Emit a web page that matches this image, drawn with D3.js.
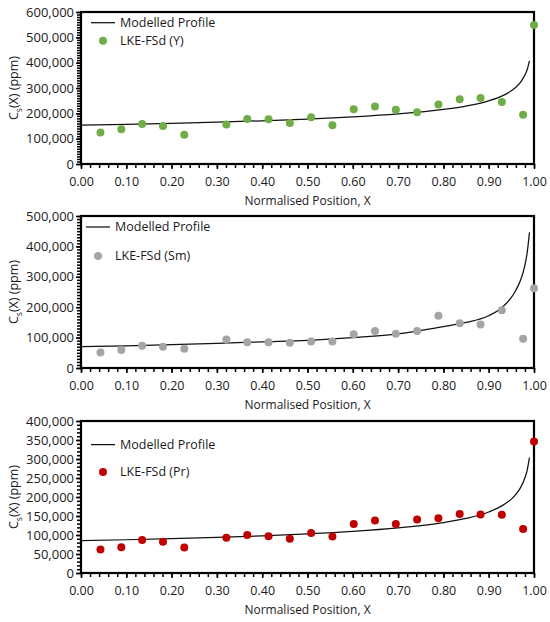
<!DOCTYPE html>
<html>
<head>
<meta charset="utf-8">
<script src="https://cdn.jsdelivr.net/npm/d3@7"></script>
<style>
  body { margin: 0; background: #fff; }
  text { font-family: "Open Sans", sans-serif; fill: #1a1a1a; }
</style>
</head>
<body>
<div id="chart"></div>
<script>
// normalised positions of the measured points
var positions = [0.043, 0.089, 0.135, 0.181, 0.228, 0.321, 0.367, 0.414, 0.461, 0.508, 0.555,
  0.602, 0.649, 0.695, 0.742, 0.789, 0.836, 0.882, 0.929, 0.976, 1.0];

// measured concentrations (ppm)
var yttrium = [124000, 137000, 158000, 150000, 115000, 156000, 178000, 177000, 162000, 185000, 153000,
  216000, 227000, 214000, 204000, 235000, 256000, 261000, 245000, 194000, 549000];
var samarium = [51000, 59000, 73000, 70000, 63000, 94000, 85000, 85000, 83000, 87000, 87000,
  111000, 122000, 113000, 122000, 172000, 147000, 143000, 190000, 96000, 262000];
var praseodymium = [62000, 68000, 87000, 82000, 67000, 93000, 100000, 97000, 90000, 105000, 96000,
  129000, 138000, 129000, 141000, 144000, 155000, 154000, 153000, 116000, 346000];

// modelled profiles
var modelX = [0, 0.1, 0.2, 0.3, 0.4, 0.5, 0.6, 0.7, 0.8, 0.85, 0.9, 0.93, 0.95, 0.96, 0.97, 0.98, 0.985, 0.99];
var modelY = [153000, 156500, 160400, 165000, 170500, 177300, 185900, 197600, 215400, 228900, 249500,
  269100, 289100, 303000, 322200, 351200, 373000, 407000];
var modelSm = [70000, 73000, 76600, 80800, 86000, 91000, 100000, 112000, 136000, 150000, 172000,
  200000, 232000, 256000, 287600, 338700, 380000, 446000];
var modelPr = [85000, 87500, 90400, 93800, 97900, 103000, 109500, 118600, 132600, 143600, 160600,
  177300, 194500, 207000, 224000, 250600, 271000, 303500];

var xTicks = [0, 0.1, 0.2, 0.3, 0.4, 0.5, 0.6, 0.7, 0.8, 0.9, 1.0];

var width = 550, height = 622;
var left = 81, right = 534;

var svg = d3.select("#chart").append("svg")
  .attr("width", width)
  .attr("height", height);

var x = d3.scaleLinear().domain([0, 1]).range([left, right]);

var panels = [
  { label: "LKE-FSd (Y)", pts: yttrium, model: modelY, color: "#70AD47",
    top: 12, bottom: 164, yMax: 600000, yStep: 100000,
    lx: 91, lineDy: 10.7, dotDy: 28.7 },
  { label: "LKE-FSd (Sm)", pts: samarium, model: modelSm, color: "#A5A5A5",
    top: 216, bottom: 368, yMax: 500000, yStep: 100000,
    lx: 86, lineDy: 11, dotDy: 40 },
  { label: "LKE-FSd (Pr)", pts: praseodymium, model: modelPr, color: "#C00000",
    top: 421, bottom: 573, yMax: 400000, yStep: 50000,
    lx: 91, lineDy: 23.6, dotDy: 51 }
];

panels.forEach(function (p) {
  var y = d3.scaleLinear().domain([0, p.yMax]).range([p.bottom, p.top]);
  var g = svg.append("g");

  // x axis, major + minor ticks
  var xMajor = g.append("g")
    .attr("transform", "translate(0," + p.bottom + ")")
    .call(d3.axisBottom(x).tickValues(xTicks).tickSize(5).tickSizeOuter(0)
      .tickFormat(d3.format(".2f")));
  xMajor.select(".domain").remove();
  xMajor.selectAll("text").attr("y", 13).attr("font-size", "12.5px");

  var xMinor = g.append("g")
    .attr("transform", "translate(0," + p.bottom + ")")
    .call(d3.axisBottom(x).tickValues(d3.range(0, 1.001, 0.02)).tickSize(4).tickFormat(""));
  xMinor.select(".domain").remove();

  // y axis
  var yMajor = g.append("g")
    .attr("transform", "translate(" + left + ",0)")
    .call(d3.axisLeft(y).tickValues(d3.range(0, p.yMax + 1, p.yStep)).tickSize(5)
      .tickFormat(d3.format(",")));
  yMajor.select(".domain").remove();
  yMajor.selectAll("text").attr("x", -7).attr("font-size", "13px");

  var yMinor = g.append("g")
    .attr("transform", "translate(" + left + ",0)")
    .call(d3.axisLeft(y).tickValues(d3.range(0, p.yMax + 1, 10000)).tickSize(4).tickFormat(""));
  yMinor.select(".domain").remove();

  g.selectAll(".tick line").attr("stroke", "#000").attr("stroke-width", 1.5);
  g.selectAll(".tick text").attr("fill", "#1a1a1a").style("font-family", "Open Sans, sans-serif");

  // frame
  g.append("rect")
    .attr("x", left).attr("y", p.top)
    .attr("width", right - left).attr("height", p.bottom - p.top)
    .attr("fill", "none").attr("stroke", "#000").attr("stroke-width", 2.2);

  // modelled profile
  var line = d3.line()
    .x(function (d, i) { return x(modelX[i]); })
    .y(function (d) { return y(d); })
    .curve(d3.curveMonotoneX);
  g.append("path")
    .datum(p.model)
    .attr("d", line)
    .attr("fill", "none")
    .attr("stroke", "#111")
    .attr("stroke-width", 1.25);

  // measured points
  g.selectAll("circle.pt")
    .data(p.pts)
    .enter()
    .append("circle")
    .attr("class", "pt")
    .attr("cx", function (d, i) { return x(positions[i]); })
    .attr("cy", function (d) { return y(d); })
    .attr("r", 4)
    .style("fill", p.color);

  // legend
  var ly = p.top + p.lineDy, dy = p.top + p.dotDy;
  g.append("line")
    .attr("x1", p.lx).attr("x2", p.lx + 24)
    .attr("y1", ly).attr("y2", ly)
    .attr("stroke", "#111").attr("stroke-width", 1.25);
  g.append("text")
    .attr("x", p.lx + 29).attr("y", ly)
    .attr("dy", "0.35em")
    .attr("font-size", "12.5px")
    .text("Modelled Profile");
  g.append("circle")
    .attr("cx", p.lx + 12).attr("cy", dy)
    .attr("r", 4)
    .style("fill", p.color);
  g.append("text")
    .attr("x", p.lx + 29).attr("y", dy)
    .attr("dy", "0.35em")
    .attr("font-size", "12.5px")
    .text(p.label);

  // axis titles
  g.append("text")
    .attr("x", (left + right) / 2)
    .attr("y", p.bottom + 37)
    .attr("dy", "0.35em")
    .attr("text-anchor", "middle")
    .attr("font-size", "12px")
    .text("Normalised Position, X");

  var yt = g.append("text")
    .attr("transform", "translate(14," + ((p.top + p.bottom) / 2) + ") rotate(-90)")
    .attr("dy", "0.35em")
    .attr("text-anchor", "middle")
    .attr("font-size", "12.5px");
  yt.append("tspan").text("C");
  yt.append("tspan").attr("font-size", "8.5px").attr("dy", "0.45em").text("s");
  yt.append("tspan").attr("dy", "-0.3em").text("(X) (ppm)");
});
</script>
</body>
</html>
